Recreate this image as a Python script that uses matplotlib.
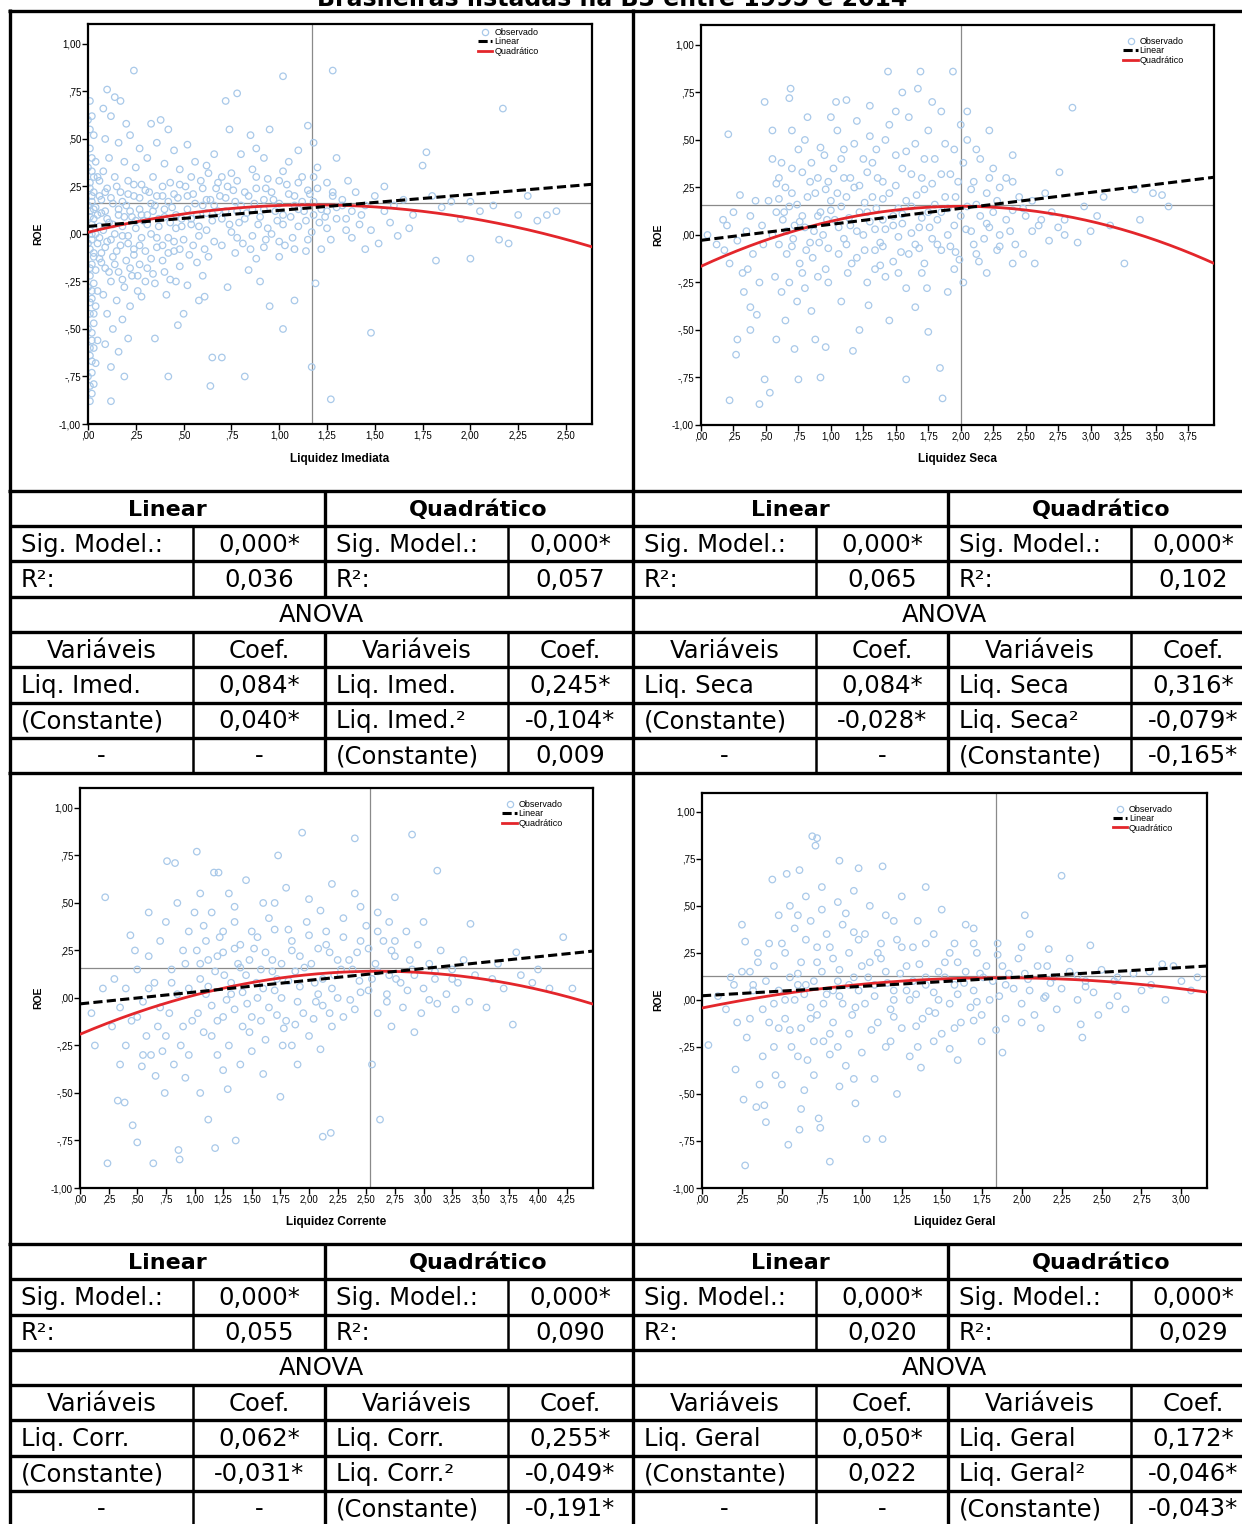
import matplotlib
matplotlib.use('Agg')
import matplotlib.pyplot as plt
from matplotlib.lines import Line2D
import numpy as np

W, H = 1242, 1524
fig = plt.figure(figsize=(W / 100, H / 100), dpi=100)


def fx(x):
    return x / W


def fy(y):
    return 1 - y / H


# ---------------------------------------------------------------- data
title = "Brasileiras listadas na B3 entre 1995 e 2014"

xlabels = ["Liquidez Imediata", "Liquidez Seca", "Liquidez Corrente", "Liquidez Geral"]

xtick_labels_1 = [",00", ",25", ",50", ",75", "1,00", "1,25", "1,50", "1,75", "2,00", "2,25", "2,50"]
xtick_labels_2 = [",00", ",25", ",50", ",75", "1,00", "1,25", "1,50", "1,75", "2,00", "2,25", "2,50",
                  "2,75", "3,00", "3,25", "3,50", "3,75"]
xtick_labels_3 = [",00", ",25", ",50", ",75", "1,00", "1,25", "1,50", "1,75", "2,00", "2,25", "2,50",
                  "2,75", "3,00", "3,25", "3,50", "3,75", "4,00", "4,25"]
xtick_labels_4 = [",00", ",25", ",50", ",75", "1,00", "1,25", "1,50", "1,75", "2,00", "2,25", "2,50",
                  "2,75", "3,00"]
ytick_labels = ["-1,00", "-,75", "-,50", "-,25", ",00", ",25", ",50", ",75", "1,00"]

# reference lines (vertex of the quadratic fit)
ref_vline = [1.17, 2.00, 2.53, 1.84]
ref_hline = [0.165, 0.16, 0.16, 0.125]

obs1 = [
    (0.01, 0.70), (0.02, 0.62), (0.03, 0.52), (0.01, 0.45), (0.04, 0.38), (0.02, 0.33), (0.05, 0.30),
    (0.01, 0.27), (0.03, 0.22), (0.06, 0.20), (0.02, 0.17), (0.04, 0.14), (0.01, 0.12), (0.05, 0.10),
    (0.03, 0.08), (0.02, 0.05), (0.06, 0.04), (0.01, 0.02), (0.04, 0.00), (0.02, -0.03), (0.05, -0.05),
    (0.01, -0.08), (0.03, -0.10), (0.06, -0.13), (0.02, -0.16), (0.04, -0.19), (0.01, -0.22),
    (0.03, -0.26), (0.05, -0.30), (0.02, -0.34), (0.04, -0.38), (0.01, -0.42), (0.03, -0.47),
    (0.02, -0.52), (0.05, -0.56), (0.03, -0.60), (0.01, -0.64), (0.04, -0.68), (0.02, -0.73),
    (0.03, -0.79), (0.02, -0.84), (0.01, -0.88),
    (0.08, 0.66), (0.10, 0.76), (0.14, 0.72), (0.17, 0.70), (0.12, 0.62), (0.20, 0.58), (0.24, 0.86),
    (0.09, 0.50), (0.16, 0.48), (0.22, 0.52), (0.27, 0.45), (0.11, 0.40), (0.19, 0.38), (0.25, 0.35),
    (0.08, 0.33), (0.14, 0.30), (0.21, 0.28), (0.28, 0.26), (0.10, 0.24), (0.17, 0.22), (0.24, 0.20),
    (0.07, 0.18), (0.13, 0.16), (0.20, 0.15), (0.27, 0.13), (0.09, 0.12), (0.16, 0.10), (0.23, 0.09),
    (0.29, 0.07), (0.11, 0.06), (0.18, 0.04), (0.25, 0.03), (0.08, 0.02), (0.14, 0.00), (0.21, -0.01),
    (0.28, -0.02), (0.10, -0.04), (0.17, -0.06), (0.24, -0.08), (0.07, -0.10), (0.13, -0.12),
    (0.20, -0.14), (0.27, -0.16), (0.09, -0.18), (0.16, -0.20), (0.23, -0.22), (0.12, -0.25),
    (0.19, -0.28), (0.26, -0.30), (0.08, -0.32), (0.15, -0.35), (0.22, -0.38), (0.10, -0.42),
    (0.18, -0.45), (0.13, -0.50), (0.21, -0.55), (0.09, -0.58), (0.16, -0.62), (0.12, -0.70),
    (0.19, -0.75), (0.12, -0.88), (0.30, -0.25), (0.28, -0.33),
    (0.33, 0.58), (0.38, 0.60), (0.42, 0.55), (0.36, 0.48), (0.45, 0.44), (0.52, 0.47), (0.31, 0.40),
    (0.40, 0.37), (0.48, 0.34), (0.56, 0.38), (0.63, 0.32), (0.34, 0.30), (0.43, 0.27), (0.51, 0.25),
    (0.59, 0.28), (0.67, 0.24), (0.32, 0.22), (0.39, 0.20), (0.47, 0.19), (0.55, 0.21), (0.62, 0.18),
    (0.69, 0.20), (0.35, 0.15), (0.44, 0.14), (0.52, 0.13), (0.60, 0.15), (0.68, 0.12), (0.31, 0.10),
    (0.40, 0.09), (0.49, 0.08), (0.57, 0.10), (0.65, 0.07), (0.37, 0.04), (0.46, 0.03), (0.54, 0.05),
    (0.62, 0.02), (0.33, 0.00), (0.42, -0.02), (0.50, -0.03), (0.58, -0.01), (0.66, -0.04),
    (0.36, -0.07), (0.45, -0.09), (0.53, -0.11), (0.61, -0.08), (0.39, -0.14), (0.48, -0.17),
    (0.57, -0.15), (0.34, -0.21), (0.43, -0.24), (0.52, -0.27), (0.60, -0.22), (0.41, -0.32),
    (0.47, -0.48), (0.58, -0.35), (0.61, -0.33), (0.42, -0.75), (0.65, -0.65), (0.70, -0.65),
    (0.64, -0.80), (0.35, -0.55), (0.50, -0.42),
    (0.78, 0.74), (0.72, 0.70), (0.74, 0.55), (0.85, 0.52), (0.95, 0.55), (1.02, 0.83), (1.15, 0.57),
    (1.18, 0.48), (0.80, 0.42), (0.92, 0.40), (1.05, 0.38), (1.20, 0.35), (0.75, 0.32), (0.88, 0.30),
    (1.00, 0.28), (1.12, 0.30), (1.25, 0.27), (0.73, 0.25), (0.82, 0.22), (0.93, 0.24), (1.05, 0.21),
    (1.15, 0.23), (1.28, 0.20), (0.77, 0.17), (0.87, 0.16), (0.97, 0.18), (1.08, 0.15), (1.18, 0.17),
    (1.30, 0.14), (0.72, 0.12), (0.83, 0.11), (0.92, 0.13), (1.02, 0.10), (1.13, 0.12), (1.24, 0.09),
    (0.79, 0.06), (0.89, 0.05), (0.99, 0.07), (1.10, 0.04), (1.21, 0.06), (0.75, 0.01), (0.86, -0.01),
    (0.96, 0.00), (1.07, -0.02), (1.17, 0.01), (1.27, -0.03), (0.81, -0.05), (0.92, -0.07),
    (1.03, -0.06), (1.14, -0.09), (0.77, -0.10), (0.88, -0.13), (1.00, -0.12), (1.22, -0.08),
    (0.84, -0.19), (0.95, -0.38), (1.08, -0.35), (1.02, -0.50), (1.19, -0.26), (0.82, -0.75),
    (1.17, -0.70), (1.27, -0.87), (0.73, -0.28), (0.90, -0.25),
    (1.28, 0.86), (1.30, 0.40), (1.36, 0.28), (1.77, 0.43), (1.75, 0.36), (2.17, 0.66), (1.33, 0.18),
    (1.40, 0.22), (1.45, 0.15), (1.50, 0.20), (1.55, 0.12), (1.60, 0.15), (1.65, 0.18), (1.70, 0.10),
    (1.80, 0.20), (1.85, 0.14), (1.90, 0.17), (2.00, 0.17), (2.05, 0.12), (2.12, 0.15), (2.25, 0.10),
    (2.35, 0.07), (2.40, 0.10), (2.45, 0.12), (1.35, 0.08), (1.42, 0.05), (1.48, 0.02), (1.58, 0.06),
    (1.68, 0.03), (1.38, -0.02), (1.52, -0.05), (1.62, -0.01), (2.15, -0.03), (2.20, -0.05),
    (1.45, -0.08), (1.82, -0.14), (2.00, -0.13), (1.48, -0.52), (1.55, 0.25), (1.95, 0.08), (2.30, 0.20),
]
obs1_dense = [
    (0.00, 0.60), (0.01, 0.55), (0.02, 0.40), (0.00, 0.35), (0.03, 0.30), (0.01, 0.24), (0.02, 0.20),
    (0.00, 0.15), (0.03, 0.13), (0.01, 0.09), (0.02, 0.00), (0.00, -0.05), (0.03, -0.12), (0.01, -0.18),
    (0.00, -0.28), (0.02, -0.30), (0.01, -0.36), (0.03, -0.42), (0.00, -0.50), (0.02, -0.56),
    (0.01, -0.60), (0.02, -0.67), (0.00, -0.75), (0.01, -0.80),
    (0.06, 0.28), (0.09, 0.22), (0.12, 0.19), (0.15, 0.25), (0.18, 0.17), (0.21, 0.21), (0.24, 0.26),
    (0.27, 0.19), (0.30, 0.23), (0.33, 0.16), (0.36, 0.20), (0.39, 0.25), (0.42, 0.17), (0.45, 0.21),
    (0.48, 0.26), (0.07, 0.11), (0.10, 0.08), (0.13, 0.05), (0.16, 0.13), (0.19, 0.09), (0.22, 0.12),
    (0.25, 0.07), (0.28, 0.10), (0.31, 0.05), (0.34, 0.12), (0.37, 0.08), (0.40, 0.13), (0.43, 0.06),
    (0.46, 0.10), (0.49, 0.04), (0.06, -0.02), (0.09, -0.07), (0.12, -0.03), (0.15, -0.09),
    (0.18, -0.01), (0.21, -0.05), (0.24, -0.11), (0.27, -0.06), (0.30, -0.09), (0.33, -0.13),
    (0.36, -0.02), (0.39, -0.06), (0.42, -0.10), (0.45, -0.04), (0.48, -0.08), (0.07, -0.15),
    (0.11, -0.20), (0.14, -0.16), (0.18, -0.24), (0.22, -0.18), (0.26, -0.22), (0.31, -0.18),
    (0.35, -0.26), (0.40, -0.20), (0.46, -0.25),
    (0.52, 0.20), (0.56, 0.16), (0.60, 0.24), (0.64, 0.18), (0.68, 0.27), (0.72, 0.19), (0.76, 0.23),
    (0.80, 0.15), (0.84, 0.20), (0.88, 0.24), (0.92, 0.18), (0.96, 0.22), (1.00, 0.16), (1.04, 0.26),
    (1.08, 0.20), (1.12, 0.17), (1.16, 0.21), (1.20, 0.24), (0.54, 0.08), (0.58, 0.04), (0.62, 0.11),
    (0.66, 0.15), (0.70, 0.08), (0.74, 0.05), (0.78, 0.12), (0.82, 0.08), (0.86, 0.13), (0.90, 0.09),
    (0.94, 0.03), (0.98, 0.12), (1.02, 0.05), (1.06, 0.09), (1.10, 0.13), (1.14, 0.07), (1.18, 0.10),
    (1.22, 0.13), (0.55, -0.06), (0.63, -0.12), (0.70, -0.06), (0.78, -0.02), (0.85, -0.08),
    (0.93, -0.03), (1.00, -0.04), (1.08, -0.08), (1.15, -0.03), (1.25, 0.03), (0.54, 0.30),
    (0.62, 0.36), (0.70, 0.30), (0.78, 0.28), (0.86, 0.34), (0.94, 0.29), (1.02, 0.33), (1.10, 0.27),
    (1.18, 0.30), (0.66, 0.42), (0.88, 0.45), (1.10, 0.44),
    (1.25, 0.12), (1.30, 0.08), (1.33, 0.15), (1.38, 0.12), (1.43, 0.10), (1.28, 0.22), (1.35, 0.02),
]

obs2 = [
    (0.05, 0.00), (0.12, -0.05), (0.17, 0.08), (0.20, 0.05), (0.18, -0.08), (0.22, -0.15), (0.21, 0.53),
    (0.30, 0.21), (0.25, 0.12), (0.28, -0.03), (0.32, -0.20), (0.35, 0.02), (0.38, 0.10), (0.40, -0.10),
    (0.42, 0.18), (0.45, -0.25), (0.47, 0.05), (0.48, -0.05), (0.33, -0.30), (0.38, -0.38),
    (0.22, -0.87), (0.45, -0.89), (0.49, -0.76), (0.28, -0.55), (0.38, -0.50), (0.27, -0.63),
    (0.43, -0.42), (0.36, -0.18),
    (0.53, -0.83), (0.75, -0.76), (0.92, -0.75), (0.96, -0.59), (0.49, 0.70), (0.69, 0.77), (0.68, 0.72),
    (0.55, 0.40), (0.60, 0.30), (0.65, 0.25), (0.70, 0.35), (0.75, 0.45), (0.80, 0.50), (0.85, 0.38),
    (0.90, 0.30), (0.95, 0.42), (0.52, 0.18), (0.58, 0.12), (0.63, 0.08), (0.68, 0.15), (0.72, 0.05),
    (0.78, 0.10), (0.82, 0.20), (0.87, 0.02), (0.92, 0.12), (0.97, 0.08), (0.55, 0.00), (0.60, -0.05),
    (0.66, -0.10), (0.71, -0.02), (0.76, -0.15), (0.81, -0.08), (0.86, -0.12), (0.91, -0.04),
    (0.96, -0.18), (0.57, -0.22), (0.62, -0.30), (0.68, -0.25), (0.74, -0.35), (0.80, -0.28),
    (0.85, -0.40), (0.90, -0.22), (0.65, -0.45), (0.58, -0.55), (0.72, -0.60), (0.88, -0.55),
    (0.55, 0.55), (0.82, 0.62), (0.98, 0.28),
    (1.04, 0.70), (1.12, 0.71), (1.44, 0.86), (1.69, 0.86), (1.94, 0.86), (1.55, 0.75), (1.67, 0.77),
    (1.05, 0.55), (1.20, 0.60), (1.30, 0.52), (1.45, 0.58), (1.60, 0.62), (1.75, 0.55), (1.85, 0.65),
    (1.10, 0.45), (1.25, 0.40), (1.35, 0.45), (1.50, 0.42), (1.65, 0.48), (1.80, 0.40), (1.95, 0.45),
    (1.02, 0.35), (1.15, 0.30), (1.28, 0.33), (1.40, 0.28), (1.55, 0.35), (1.70, 0.30), (1.85, 0.32),
    (1.98, 0.28), (1.05, 0.22), (1.18, 0.25), (1.32, 0.20), (1.45, 0.22), (1.58, 0.18), (1.72, 0.24),
    (1.88, 0.20), (1.08, 0.15), (1.22, 0.12), (1.35, 0.14), (1.48, 0.10), (1.62, 0.15), (1.75, 0.12),
    (1.90, 0.14), (1.03, 0.08), (1.15, 0.05), (1.30, 0.07), (1.42, 0.03), (1.55, 0.06), (1.68, 0.04),
    (1.82, 0.08), (1.95, 0.05), (1.10, -0.02), (1.25, 0.00), (1.38, -0.04), (1.52, -0.01),
    (1.65, -0.05), (1.78, -0.02), (1.92, -0.06), (1.06, -0.10), (1.20, -0.12), (1.34, -0.08),
    (1.48, -0.14), (1.60, -0.10), (1.72, -0.15), (1.85, -0.08), (1.13, -0.20), (1.28, -0.25),
    (1.42, -0.22), (1.58, -0.28), (1.70, -0.20), (1.17, -0.61), (1.29, -0.37), (1.58, -0.76),
    (1.84, -0.70), (1.86, -0.86), (1.75, -0.51), (1.38, -0.16), (1.99, -0.13), (1.08, -0.35),
    (1.45, -0.45), (1.65, -0.38), (1.90, -0.30), (1.22, -0.50),
    (2.86, 0.67), (2.40, 0.42), (2.76, 0.33), (3.34, 0.24), (3.55, 0.21), (3.38, 0.08), (3.26, -0.15),
    (2.57, -0.15), (2.90, -0.04), (2.05, 0.50), (2.15, 0.40), (2.25, 0.35), (2.10, 0.28), (2.20, 0.22),
    (2.30, 0.25), (2.45, 0.20), (2.55, 0.18), (2.65, 0.22), (2.05, 0.15), (2.15, 0.10), (2.25, 0.12),
    (2.35, 0.08), (2.50, 0.10), (2.60, 0.05), (2.70, 0.12), (2.80, 0.08), (2.95, 0.15), (3.05, 0.10),
    (3.15, 0.05), (2.08, 0.02), (2.18, -0.02), (2.30, 0.00), (2.42, -0.05), (2.55, 0.02),
    (2.68, -0.03), (2.80, 0.00), (3.00, 0.02), (2.12, -0.10), (2.28, -0.08), (2.40, -0.15),
    (2.48, -0.10), (2.02, -0.25), (2.20, -0.20), (2.35, 0.30), (2.05, 0.65), (2.22, 0.55), (3.10, 0.20),
    (3.60, 0.15), (3.48, 0.22),
]
obs2_dense = [
    (0.62, 0.38), (0.78, 0.33), (0.92, 0.46), (1.08, 0.40), (1.18, 0.48), (1.32, 0.38), (1.42, 0.50),
    (1.58, 0.44), (1.72, 0.40), (1.88, 0.48), (2.02, 0.38), (2.12, 0.45),
    (0.58, 0.27), (0.70, 0.22), (0.84, 0.28), (0.96, 0.24), (1.10, 0.30), (1.22, 0.26), (1.36, 0.30),
    (1.50, 0.26), (1.62, 0.32), (1.78, 0.27), (1.92, 0.32), (2.08, 0.24), (2.22, 0.30), (2.40, 0.28),
    (0.60, 0.19), (0.74, 0.16), (0.88, 0.22), (1.00, 0.18), (1.12, 0.20), (1.26, 0.17), (1.40, 0.19),
    (1.52, 0.14), (1.66, 0.21), (1.80, 0.16), (1.96, 0.20), (2.12, 0.16), (2.28, 0.18), (2.48, 0.14),
    (0.64, 0.12), (0.76, 0.07), (0.90, 0.10), (1.00, 0.13), (1.14, 0.09), (1.28, 0.12), (1.40, 0.08),
    (1.55, 0.11), (1.70, 0.09), (1.85, 0.12), (2.00, 0.10), (2.20, 0.06), (2.40, 0.13), (2.62, 0.08),
    (0.66, 0.02), (0.80, 0.04), (0.94, 0.00), (1.06, 0.04), (1.20, 0.02), (1.34, 0.03), (1.48, 0.05),
    (1.62, 0.01), (1.76, 0.04), (1.90, 0.00), (2.04, 0.03), (2.22, 0.04), (2.38, 0.02), (2.75, 0.04),
    (0.70, -0.06), (0.84, -0.04), (0.98, -0.07), (1.12, -0.05), (1.26, -0.08), (1.40, -0.06),
    (1.54, -0.09), (1.68, -0.07), (1.82, -0.05), (1.96, -0.09), (2.10, -0.05), (2.30, -0.06),
    (0.78, -0.20), (0.98, -0.25), (1.16, -0.15), (1.34, -0.18), (1.52, -0.20), (1.74, -0.28),
    (1.95, -0.18), (2.14, -0.14),
    (0.70, 0.55), (1.00, 0.62), (1.30, 0.68), (1.50, 0.65), (1.78, 0.70), (2.00, 0.58),
]

obs3 = [
    (0.22, 0.53), (0.44, 0.33), (0.76, 0.72), (0.83, 0.71), (0.24, -0.87), (0.46, -0.67), (0.50, -0.76),
    (0.39, -0.55), (0.33, -0.54), (0.13, -0.25), (0.54, -0.36), (0.74, -0.50), (0.66, -0.41),
    (0.64, -0.87), (0.87, -0.85), (0.86, -0.80), (0.30, 0.10), (0.40, 0.05), (0.50, 0.15), (0.35, -0.05),
    (0.45, -0.12), (0.55, -0.02), (0.60, 0.22), (0.65, 0.08), (0.70, 0.30), (0.75, 0.40), (0.80, 0.15),
    (0.85, 0.50), (0.90, 0.25), (0.95, 0.05), (0.58, -0.20), (0.68, -0.15), (0.78, -0.08), (0.88, -0.25),
    (0.98, -0.12), (0.62, -0.30), (0.72, -0.28), (0.82, -0.35), (0.92, -0.42), (0.20, 0.05),
    (0.10, -0.08), (0.28, -0.15), (0.48, 0.25), (0.95, 0.35), (0.60, 0.45), (0.85, 0.02),
    (1.02, 0.77), (1.17, 0.66), (1.21, 0.66), (1.73, 0.75), (1.94, 0.87), (2.40, 0.84), (1.05, 0.55),
    (1.15, 0.45), (1.30, 0.55), (1.45, 0.62), (1.60, 0.50), (1.80, 0.58), (2.00, 0.52), (2.20, 0.60),
    (2.40, 0.55), (1.08, 0.38), (1.22, 0.32), (1.35, 0.40), (1.50, 0.35), (1.65, 0.42), (1.82, 0.36),
    (1.98, 0.40), (2.15, 0.35), (2.30, 0.42), (2.50, 0.38), (1.02, 0.25), (1.12, 0.20), (1.25, 0.24),
    (1.38, 0.18), (1.52, 0.26), (1.68, 0.20), (1.85, 0.25), (2.02, 0.18), (2.18, 0.24), (2.35, 0.20),
    (2.52, 0.26), (1.05, 0.10), (1.18, 0.14), (1.32, 0.08), (1.45, 0.12), (1.58, 0.15), (1.72, 0.10),
    (1.88, 0.14), (2.05, 0.08), (2.22, 0.12), (2.38, 0.15), (2.55, 0.10), (1.10, 0.02), (1.28, -0.01),
    (1.42, 0.03), (1.55, 0.00), (1.70, 0.04), (1.90, -0.02), (2.08, 0.02), (2.25, 0.00), (2.45, 0.03),
    (1.03, -0.08), (1.20, -0.12), (1.35, -0.06), (1.50, -0.10), (1.65, -0.05), (1.80, -0.12),
    (1.95, -0.08), (2.12, -0.04), (2.30, -0.10), (1.15, -0.20), (1.30, -0.25), (1.48, -0.18),
    (1.62, -0.22), (1.78, -0.16), (2.00, -0.20), (2.20, -0.15), (1.12, -0.64), (1.05, -0.50),
    (1.29, -0.48), (1.36, -0.75), (1.18, -0.79), (1.75, -0.52), (2.12, -0.73), (2.19, -0.71),
    (1.77, -0.25), (2.10, -0.27), (1.40, -0.35), (1.60, -0.40), (1.25, -0.38), (1.90, -0.35),
    (2.55, -0.35), (2.62, -0.64),
    (2.90, 0.86), (3.12, 0.67), (2.75, 0.53), (3.41, 0.39), (3.81, 0.24), (4.22, 0.32), (4.30, 0.05),
    (3.78, -0.14), (3.55, -0.05), (2.65, 0.30), (2.75, 0.22), (2.85, 0.35), (2.95, 0.28), (3.05, 0.18),
    (3.15, 0.25), (3.25, 0.15), (3.35, 0.20), (2.70, 0.12), (2.80, 0.08), (2.90, 0.15), (3.00, 0.05),
    (3.10, 0.10), (3.20, 0.02), (3.30, 0.08), (3.45, 0.12), (3.60, 0.10), (3.70, 0.05), (3.85, 0.12),
    (3.95, 0.08), (4.10, 0.05), (2.68, -0.02), (2.82, -0.05), (2.98, -0.08), (3.12, -0.03),
    (3.28, -0.06), (3.40, -0.02), (2.72, -0.15), (2.92, -0.18), (3.65, 0.18), (4.00, 0.15),
    (2.60, 0.45), (3.00, 0.40),
]
obs3_dense = [
    (1.10, 0.30), (1.25, 0.35), (1.40, 0.28), (1.55, 0.32), (1.70, 0.36), (1.85, 0.30), (2.00, 0.33),
    (2.15, 0.28), (2.30, 0.32), (2.45, 0.30), (2.60, 0.35), (2.75, 0.30),
    (1.05, 0.18), (1.20, 0.22), (1.35, 0.26), (1.48, 0.20), (1.62, 0.24), (1.76, 0.18), (1.92, 0.22),
    (2.08, 0.26), (2.25, 0.20), (2.42, 0.24), (2.58, 0.18), (2.72, 0.25), (2.88, 0.20),
    (1.12, 0.06), (1.26, 0.12), (1.40, 0.16), (1.54, 0.08), (1.68, 0.14), (1.82, 0.09), (1.96, 0.16),
    (2.12, 0.10), (2.28, 0.15), (2.44, 0.09), (2.60, 0.14), (2.76, 0.10), (2.92, 0.12), (3.10, 0.14),
    (1.15, -0.04), (1.32, 0.02), (1.46, -0.03), (1.60, 0.05), (1.76, 0.00), (1.92, 0.06), (2.06, -0.02),
    (2.20, 0.05), (2.36, -0.01), (2.52, 0.04), (2.68, 0.02), (2.86, 0.04), (3.05, -0.01), (3.25, 0.10),
    (0.90, -0.15), (1.08, -0.18), (1.25, -0.10), (1.42, -0.15), (1.58, -0.12), (1.72, -0.09),
    (1.88, -0.14), (2.04, -0.11), (2.18, -0.08), (2.40, -0.06), (2.60, -0.08),
    (0.70, -0.05), (0.80, 0.08), (0.92, 0.18), (0.75, -0.20), (0.95, -0.30), (1.00, 0.45), (1.35, 0.48),
    (1.70, 0.50), (2.10, 0.46), (2.45, 0.48), (2.70, 0.40),
    (0.50, -0.10), (0.60, 0.05), (0.40, -0.25), (0.55, -0.30), (0.35, -0.35), (1.20, -0.30),
    (1.50, -0.28), (1.85, -0.25),
]

obs4 = [
    (0.04, -0.24), (0.27, 0.31), (0.25, 0.40), (0.21, -0.37), (0.26, -0.53), (0.34, -0.57), (0.39, -0.56),
    (0.27, -0.88), (0.44, 0.64), (0.10, 0.02), (0.15, -0.05), (0.20, 0.08), (0.25, 0.15), (0.30, -0.10),
    (0.35, 0.20), (0.40, 0.10), (0.45, -0.02), (0.28, -0.20), (0.38, -0.30), (0.48, -0.15), (0.32, 0.05),
    (0.42, 0.30), (0.46, -0.40), (0.22, -0.12), (0.36, -0.45), (0.18, 0.12), (0.48, 0.45),
    (0.53, 0.67), (0.61, 0.69), (0.69, 0.87), (0.72, 0.86), (0.71, 0.82), (0.86, 0.74), (0.98, 0.70),
    (0.54, -0.77), (0.61, -0.69), (0.73, -0.63), (0.74, -0.68), (0.80, -0.86), (0.86, -0.46),
    (0.80, -0.29), (0.55, 0.50), (0.65, 0.55), (0.75, 0.60), (0.85, 0.52), (0.95, 0.58), (0.58, 0.38),
    (0.68, 0.42), (0.78, 0.35), (0.88, 0.40), (0.98, 0.32), (0.52, 0.25), (0.62, 0.20), (0.72, 0.28),
    (0.82, 0.22), (0.92, 0.25), (0.55, 0.12), (0.65, 0.08), (0.75, 0.15), (0.85, 0.10), (0.95, 0.12),
    (0.58, 0.00), (0.68, -0.04), (0.78, 0.03), (0.88, -0.02), (0.98, 0.05), (0.52, -0.10),
    (0.62, -0.15), (0.72, -0.08), (0.82, -0.12), (0.92, -0.18), (0.56, -0.25), (0.66, -0.32),
    (0.76, -0.22), (0.90, -0.35), (0.64, -0.48), (0.96, -0.55),
    (1.13, 0.71), (1.03, -0.74), (1.13, -0.74), (1.37, -0.36), (1.88, -0.28), (1.05, 0.50), (1.15, 0.45),
    (1.25, 0.55), (1.35, 0.42), (1.50, 0.48), (1.65, 0.40), (1.02, 0.35), (1.12, 0.30), (1.22, 0.32),
    (1.32, 0.28), (1.45, 0.35), (1.58, 0.30), (1.72, 0.25), (1.85, 0.30), (1.98, 0.22), (1.05, 0.20),
    (1.15, 0.15), (1.28, 0.18), (1.40, 0.12), (1.52, 0.20), (1.65, 0.15), (1.78, 0.18), (1.92, 0.14),
    (1.08, 0.08), (1.20, 0.05), (1.32, 0.10), (1.45, 0.04), (1.58, 0.08), (1.70, 0.05), (1.82, 0.10),
    (1.95, 0.06), (1.02, -0.02), (1.18, -0.05), (1.30, 0.00), (1.42, -0.06), (1.55, -0.02),
    (1.68, -0.04), (1.80, 0.00), (1.10, -0.12), (1.25, -0.15), (1.38, -0.10), (1.50, -0.18),
    (1.62, -0.12), (1.75, -0.08), (1.90, -0.10), (1.15, -0.25), (1.30, -0.30), (1.45, -0.22),
    (1.08, -0.42), (1.22, -0.50), (1.60, -0.32), (1.40, 0.60), (1.70, 0.38),
    (2.25, 0.66), (2.37, -0.13), (2.38, -0.20), (2.55, -0.03), (2.81, 0.08), (2.88, 0.19), (3.06, 0.05),
    (2.17, 0.27), (2.43, 0.29), (2.05, 0.35), (2.10, 0.18), (2.20, 0.12), (2.30, 0.15), (2.40, 0.10),
    (2.50, 0.16), (2.60, 0.12), (2.70, 0.14), (2.80, 0.15), (2.95, 0.18), (3.10, 0.12), (2.05, 0.05),
    (2.15, 0.02), (2.25, 0.06), (2.35, 0.00), (2.45, 0.04), (2.60, 0.02), (2.75, 0.05), (2.90, 0.00),
    (3.00, 0.10), (2.08, -0.08), (2.22, -0.05), (2.48, -0.08), (2.65, -0.05), (2.12, -0.15),
    (2.30, 0.22), (2.02, 0.45),
]
obs4_dense = [
    (0.35, 0.25), (0.50, 0.30), (0.65, 0.32), (0.80, 0.28), (0.95, 0.36), (1.10, 0.25), (1.25, 0.28),
    (1.40, 0.30), (1.55, 0.25), (1.70, 0.30), (1.85, 0.24), (2.00, 0.28),
    (0.30, 0.15), (0.45, 0.18), (0.60, 0.14), (0.72, 0.20), (0.86, 0.16), (1.00, 0.18), (1.12, 0.22),
    (1.24, 0.14), (1.36, 0.19), (1.48, 0.15), (1.60, 0.20), (1.74, 0.14), (1.88, 0.18), (2.02, 0.14),
    (2.16, 0.18), (2.35, 0.13),
    (0.32, 0.08), (0.48, 0.05), (0.60, 0.08), (0.70, 0.10), (0.82, 0.05), (0.92, 0.08), (1.04, 0.12),
    (1.16, 0.09), (1.28, 0.05), (1.40, 0.08), (1.52, 0.12), (1.64, 0.09), (1.76, 0.12), (1.90, 0.08),
    (2.04, 0.11), (2.18, 0.09), (2.40, 0.07), (2.58, 0.10),
    (0.38, -0.05), (0.52, 0.00), (0.64, 0.03), (0.76, -0.02), (0.86, 0.02), (0.96, -0.04), (1.08, 0.02),
    (1.20, 0.00), (1.34, 0.03), (1.48, 0.00), (1.60, 0.03), (1.72, -0.01), (1.86, 0.02), (2.00, -0.02),
    (2.14, 0.01),
    (0.42, -0.12), (0.55, -0.16), (0.68, -0.10), (0.80, -0.18), (0.94, -0.08), (1.06, -0.16),
    (1.20, -0.09), (1.34, -0.14), (1.46, -0.07), (1.58, -0.15), (1.70, -0.11), (1.84, -0.16),
    (2.00, -0.12),
    (0.45, -0.25), (0.60, -0.30), (0.70, -0.22), (0.85, -0.25), (1.00, -0.28), (1.18, -0.22),
    (1.35, -0.25), (1.55, -0.26), (1.75, -0.22),
    (0.60, 0.45), (0.75, 0.48), (0.90, 0.46), (1.20, 0.42), (0.50, -0.45), (0.70, -0.40), (0.95, -0.42),
    (0.40, -0.65), (0.62, -0.58),
]

table1 = dict(lin_sig="0,000*", lin_r2="0,036", quad_sig="0,000*", quad_r2="0,057",
              lin_rows=[("Liq. Imed.", "0,084*"), ("(Constante)", "0,040*"), ("-", "-")],
              quad_rows=[("Liq. Imed.", "0,245*"), ("Liq. Imed.²", "-0,104*"), ("(Constante)", "0,009")])
table2 = dict(lin_sig="0,000*", lin_r2="0,065", quad_sig="0,000*", quad_r2="0,102",
              lin_rows=[("Liq. Seca", "0,084*"), ("(Constante)", "-0,028*"), ("-", "-")],
              quad_rows=[("Liq. Seca", "0,316*"), ("Liq. Seca²", "-0,079*"), ("(Constante)", "-0,165*")])
table3 = dict(lin_sig="0,000*", lin_r2="0,055", quad_sig="0,000*", quad_r2="0,090",
              lin_rows=[("Liq. Corr.", "0,062*"), ("(Constante)", "-0,031*"), ("-", "-")],
              quad_rows=[("Liq. Corr.", "0,255*"), ("Liq. Corr.²", "-0,049*"), ("(Constante)", "-0,191*")])
table4 = dict(lin_sig="0,000*", lin_r2="0,020", quad_sig="0,000*", quad_r2="0,029",
              lin_rows=[("Liq. Geral", "0,050*"), ("(Constante)", "0,022"), ("-", "-")],
              quad_rows=[("Liq. Geral", "0,172*"), ("Liq. Geral²", "-0,046*"), ("(Constante)", "-0,043*")])

# ---------------------------------------------------------------- style
SCAT = '#a9c9e9'
RED = '#e3262b'
GRAY = '#8a8a8a'
CHART_FONT = 'Liberation Sans'
TABLE_FONT = 'DejaVu Sans'


def num(s):
    return float(s.replace('*', '').replace(',', '.'))


def tick_val(lbl):
    return float(lbl.replace(',', '.'))


# axes boxes in pixels: left, right, top, bottom ; x max ; y max ; legend anchor
boxes = [
    (88, 592, 24, 424, 2.636, 1.105, 0.77, 0.995),
    (701, 1214, 25, 425, 3.95, 1.105, 0.82, 0.975),
    (80, 593, 788, 1188, 4.48, 1.105, 0.82, 0.975),
    (702, 1207, 793, 1188, 3.16, 1.10, 0.81, 0.975),
]
obs_all = [obs1 + obs1_dense, obs2 + obs2_dense, obs3 + obs3_dense, obs4 + obs4_dense]
tables = [table1, table2, table3, table4]
xticks_all = [xtick_labels_1, xtick_labels_2, xtick_labels_3, xtick_labels_4]
ylabel_pos = [(38, 234), (658, 235), (38, 998), (658, 1000)]
xlabel_pos = [(340, 459), (957, 459), (336, 1222), (955, 1222)]

for i in range(4):
    l, r, t, b, xmax, ymax, legx, legy = boxes[i]
    ax = fig.add_axes([fx(l), fy(b), (r - l) / W, (b - t) / H])
    ax.set_xlim(0, xmax)
    ax.set_ylim(-1.0, ymax)
    pts = np.array(obs_all[i])
    ax.scatter(pts[:, 0], pts[:, 1], s=22, facecolors='none', edgecolors=SCAT, linewidths=0.9, zorder=2)
    ax.axvline(ref_vline[i], color=GRAY, lw=0.9, zorder=1)
    ax.axhline(ref_hline[i], color=GRAY, lw=0.9, zorder=1)
    tb = tables[i]
    slope = num(tb['lin_rows'][0][1])
    const = num(tb['lin_rows'][1][1])
    qb = num(tb['quad_rows'][0][1])
    qc = num(tb['quad_rows'][1][1])
    qa = num(tb['quad_rows'][2][1])
    xs = np.linspace(0, xmax, 300)
    ax.plot(xs, qa + qb * xs + qc * xs ** 2, color=RED, lw=2.0, zorder=3)
    ax.plot(xs, const + slope * xs, color='black', lw=2.2, ls=(0, (3, 1.4)), zorder=4)

    xl = xticks_all[i]
    ax.set_xticks([tick_val(v) for v in xl])
    ax.set_xticklabels(xl, fontsize=7, family=CHART_FONT)
    ax.set_yticks([tick_val(v) for v in ytick_labels])
    ax.set_yticklabels(ytick_labels, fontsize=7, family=CHART_FONT)
    ax.tick_params(direction='out', length=4, width=1, pad=1, top=False, right=False)
    for sp in ax.spines.values():
        sp.set_linewidth(1.6)
        sp.set_color('black')

    handles = [
        Line2D([], [], marker='o', ls='none', mfc='none', mec=SCAT, ms=4.5, mew=0.9),
        Line2D([], [], color='black', lw=2.2, ls=(0, (3, 1.0))),
        Line2D([], [], color=RED, lw=2.0),
    ]
    ax.legend(handles, ["Observado", "Linear", "Quadrático"], loc='upper left',
              bbox_to_anchor=(legx, legy), frameon=False, handlelength=1.6, handletextpad=0.2,
              labelspacing=0.05, borderpad=0.2, borderaxespad=0,
              prop=dict(family=CHART_FONT, size=6.5))

    fig.text(fx(ylabel_pos[i][0]), fy(ylabel_pos[i][1]), "ROE", rotation=90, ha='center', va='center',
             fontsize=7.5, fontweight='bold', family=CHART_FONT)
    fig.text(fx(xlabel_pos[i][0]), fy(xlabel_pos[i][1]), xlabels[i], ha='center', va='center',
             fontsize=8.5, fontweight='bold', family=CHART_FONT)


# ---------------------------------------------------------------- frame & tables
def hline(y, x0, x1, lw):
    fig.add_artist(Line2D([fx(x0), fx(x1)], [fy(y), fy(y)], color='black', lw=lw,
                          transform=fig.transFigure, solid_capstyle='butt'))


def vline(x, y0, y1, lw):
    fig.add_artist(Line2D([fx(x), fx(x)], [fy(y0), fy(y1)], color='black', lw=lw,
                          transform=fig.transFigure, solid_capstyle='butt'))


THICK = 2.4
THIN = 1.8

hline(11, 8, W, THICK)
for yy in (491, 773, 1244):
    hline(yy, 8, W, THICK)
vline(10, 9, H, THICK)
vline(633, 9, H, THICK)

RH = 35.25
COLS = [0, 183, 315, 498, 622]
FS = 17.5


def draw_table(x0, y0, tb):
    rows_y = [y0 + k * RH for k in range(9)]
    for k in range(1, 8):
        hline(rows_y[k], x0, min(x0 + COLS[4], W), THICK)
    vline(x0 + COLS[2], rows_y[0], rows_y[3], THICK)
    vline(x0 + COLS[2], rows_y[4], rows_y[8], THICK)
    for c in (1, 3):
        vline(x0 + COLS[c], rows_y[1], rows_y[3], THIN)
        vline(x0 + COLS[c], rows_y[4], rows_y[8], THIN)

    def cy(k):
        return fy((rows_y[k] + rows_y[k + 1]) / 2 + 1)

    def left(c, k, s):
        fig.text(fx(x0 + COLS[c] + 11), cy(k), s, ha='left', va='center', fontsize=FS, family=TABLE_FONT)

    def center(c, k, s, **kw):
        xc = (x0 + COLS[c] + x0 + COLS[c + 1]) / 2
        fig.text(fx(xc), cy(k), s, ha='center', va='center', fontsize=FS, family=TABLE_FONT, **kw)

    fig.text(fx(x0 + COLS[2] / 2), cy(0), "Linear", ha='center', va='center', fontsize=16,
             fontweight='bold', family=TABLE_FONT)
    fig.text(fx(x0 + (COLS[2] + COLS[4]) / 2), cy(0), "Quadrático", ha='center', va='center', fontsize=16,
             fontweight='bold', family=TABLE_FONT)
    left(0, 1, "Sig. Model.:")
    center(1, 1, tb['lin_sig'])
    left(2, 1, "Sig. Model.:")
    center(3, 1, tb['quad_sig'])
    left(0, 2, "R²:")
    center(1, 2, tb['lin_r2'])
    left(2, 2, "R²:")
    center(3, 2, tb['quad_r2'])
    fig.text(fx(x0 + COLS[4] / 2), cy(3), "ANOVA", ha='center', va='center', fontsize=FS, family=TABLE_FONT)
    center(0, 4, "Variáveis")
    center(1, 4, "Coef.")
    center(2, 4, "Variáveis")
    center(3, 4, "Coef.")
    for j in range(3):
        lab, val = tb['lin_rows'][j]
        if lab == "-":
            center(0, 5 + j, lab)
        else:
            left(0, 5 + j, lab)
        center(1, 5 + j, val)
        qlab, qval = tb['quad_rows'][j]
        left(2, 5 + j, qlab)
        center(3, 5 + j, qval)


draw_table(10, 491, table1)
draw_table(633, 491, table2)
draw_table(10, 1244, table3)
draw_table(633, 1244, table4)

fig.text(fx(612), fy(6), title, ha='center', va='baseline', fontsize=17, fontweight='bold',
         family=TABLE_FONT)

fig.savefig('out.png', dpi=100)
